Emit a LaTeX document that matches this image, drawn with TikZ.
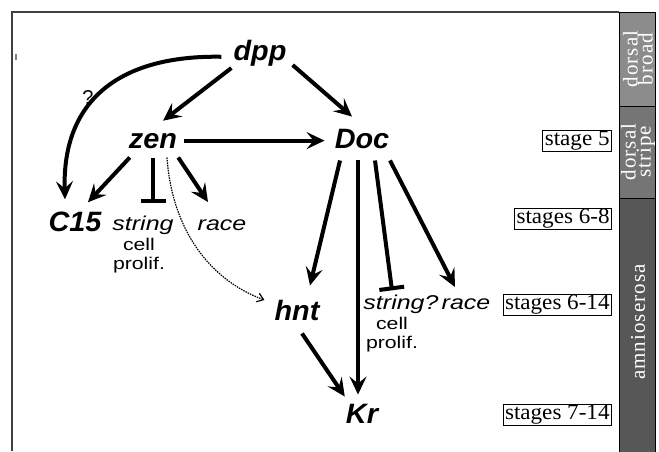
\documentclass[tikz,border=0pt]{standalone}
\usepackage{fontspec}
\setmainfont{Liberation Serif}
\setsansfont{Liberation Sans}
\newfontfamily\genefont{Liberation Sans}[FakeStretch=1.03]
\newfontfamily\targetfont{Liberation Sans}[FakeStretch=1.25]
\newfontfamily\stagefont{Liberation Serif}[FakeStretch=1.05]
\newfontfamily\barfont{Liberation Serif}[LetterSpace=5]
\usetikzlibrary{arrows.meta, calc}

\definecolor{broadgray}{gray}{0.55}
\definecolor{stripegray}{gray}{0.46}
\definecolor{amniogray}{gray}{0.34}
\definecolor{framegray}{gray}{0.25}

\tikzset{
  gene/.style={font=\genefont\bfseries\itshape\fontsize{28}{28}\selectfont, inner sep=2pt, anchor=base},
  target/.style={font=\targetfont\itshape\fontsize{20}{20}\selectfont, inner sep=1pt, anchor=base},
  note/.style={font=\targetfont\fontsize{17}{19}\selectfont, align=center, inner sep=0pt, anchor=north},
  stagebox/.style={draw, line width=0.8pt, font=\stagefont\fontsize{22}{22}\selectfont, inner xsep=2pt, inner ysep=1.2pt, anchor=east},
  barlabel/.style={text=white, rotate=90, align=center, font=\barfont\fontsize{21}{15}\selectfont},
  act/.style={line width=4pt, -{Stealth[length=18pt,width=17pt,inset=7pt]}},
  rep/.style={line width=4pt, -{Bar[width=25pt]}},
  guess/.style={line width=1.2pt, dash pattern=on 1.5pt off 1pt, -{Straight Barb[length=6pt,width=9pt]}},
}

\begin{document}
\begin{tikzpicture}[x=1pt, y=-1pt]
\useasboundingbox (0,0) rectangle (659,451);

% frame and stage bar
\draw[framegray, line width=1.3pt] (12,451) -- (12,12) -- (619,12);
\draw[gray, line width=2pt] (16,54) -- (16,60);
\filldraw[fill=broadgray, line width=0.9pt] (619,12) rectangle (655,106);
\filldraw[fill=stripegray, line width=0.9pt] (619,106) rectangle (655,198);
\filldraw[fill=amniogray, line width=0.9pt] (619,198) rectangle (655,453);
\node[barlabel] (broad) at (638,59) {dorsal\\broad};
\node[barlabel] (stripe) at (638,152) {dorsal\\stripe};
\node[barlabel] (amnio) at (638,322) {amnioserosa};

% stages
\node[stagebox] (st5) at (612,141) {stage 5};
\node[stagebox] (st68) at (612,219) {stages 6-8};
\node[stagebox] (st614) at (612,305) {stages 6-14};
\node[stagebox] (st714) at (612,415) {stages 7-14};

% genes
\node[gene] (dpp) at (260,60) {dpp};
\node[gene] (zen) at (153,148) {zen};
\node[gene] (doc) at (362,148) {Doc};
\node[gene] (c15) at (75,231) {C15};
\node[gene] (hnt) at (297,320) {hnt};
\node[gene] (kr) at (362,423) {Kr};
\node[target] (str1) at (143,230) {string};
\node[target] (race1) at (222,230) {race};
\node[note] (prol1) at (139,238) {cell\\prolif.};
\node[target] (str2) at (401,309) {string?};
\node[target] (race2) at (466,309) {race};
\node[note] (prol2) at (392,317) {cell\\prolif.};
\node[font=\sffamily\fontsize{20}{20}\selectfont] (qmark) at (88,98) {?};

% connections
\draw[act] (dpp.south west) -- ([shift={(10pt,10pt)}]zen.north);
\draw[act] ([shift={(4pt,3pt)}]dpp.south east) -- ([shift={(-10pt,10pt)}]doc.north);
\draw[act] ([shift={(-10pt,-4pt)}]dpp.west) .. controls (120,55) and (62,100) .. ([shift={(-10pt,10pt)}]c15.north);
\draw[act, shorten <=5pt, shorten >=8pt] (zen.east) -- (zen.east -| doc.west);
\draw[act] ([shift={(3pt,-7pt)}]zen.south west) -- ([shift={(13pt,7pt)}]c15.north);
\draw[rep, shorten <=8pt, shorten >=11pt] (zen.south) -- (zen.south |- str1.north);
\draw[act] ([shift={(-1pt,-7pt)}]zen.south east) -- ([shift={(-14pt,16pt)}]race1.north);
\draw[guess] ([shift={(14pt,-7pt)}]zen.south) .. controls (172,230) and (210,280) .. ([shift={(-8pt,10pt)}]hnt.west);
\draw[act] ([shift={(-22pt,-10pt)}]doc.south) -- ([shift={(13pt,12pt)}]hnt.north);
\draw[act] ([shift={(-4pt,-10pt)}]doc.south) -- ([shift={(-4pt,7pt)}]kr.north);
\draw[rep] ([shift={(13pt,-10pt)}]doc.south) -- ([shift={(-9pt,3pt)}]str2.north);
\draw[act] ([shift={(28pt,-10pt)}]doc.south) -- ([shift={(-11pt,10pt)}]race2.north);
\draw[act] ([shift={(5pt,-11pt)}]hnt.south) -- ([shift={(1pt,5pt)}]kr.north west);
\end{tikzpicture}
\end{document}
